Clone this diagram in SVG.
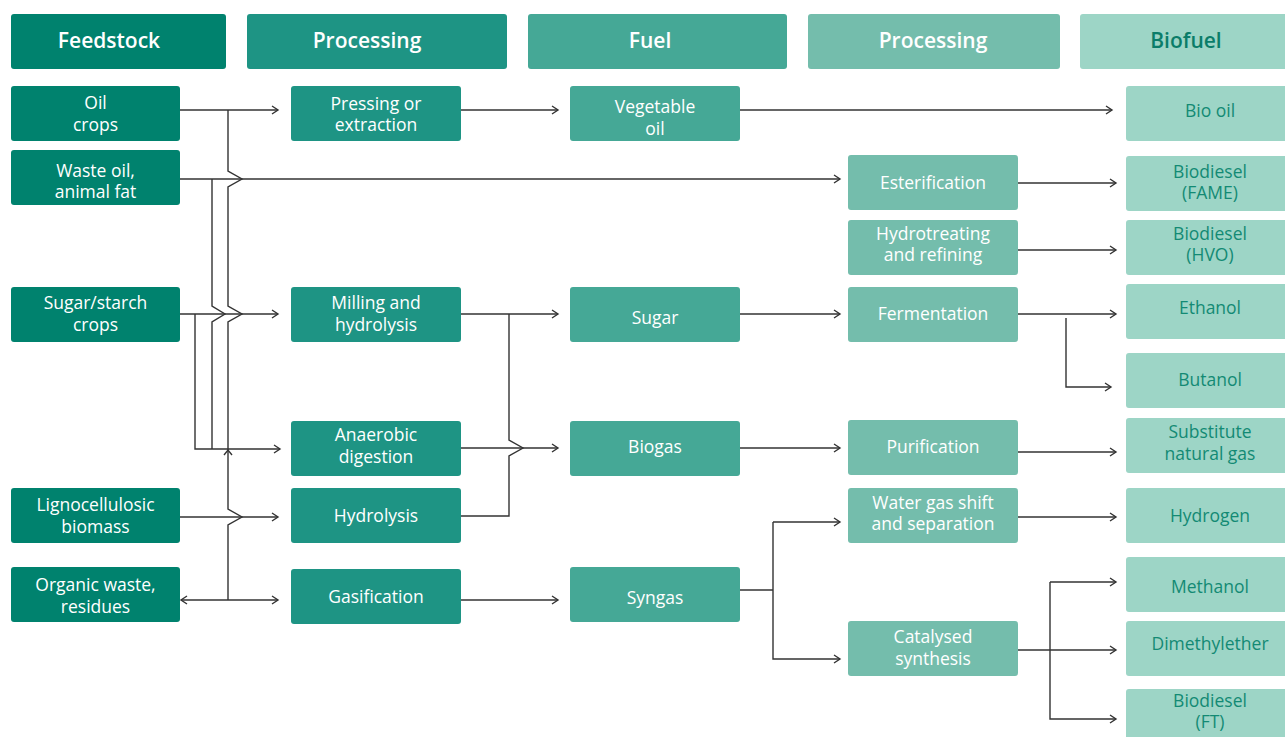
<svg xmlns="http://www.w3.org/2000/svg" width="1285" height="737" viewBox="0 0 1285 737">
<defs>
<style>
text{font-family:"Open Sans","Noto Sans","Liberation Sans",sans-serif;text-anchor:middle}
.h{font-size:21px;font-weight:600;fill:#fff}
.t{font-size:17.5px;fill:#fff}
.tb{font-size:17.5px;fill:#138a74}
.c1{fill:#00826e}.c2{fill:#1e9484}.c3{fill:#45a896}.c4{fill:#74bdac}.c5{fill:#9dd5c6}
.ln{fill:none;stroke:#333;stroke-width:1.4}
</style>
<marker id="a" markerWidth="10" markerHeight="10" refX="7" refY="5" orient="auto" markerUnits="userSpaceOnUse">
<path d="M1,1 L7,5 L1,9" fill="none" stroke="#333" stroke-width="1.4"/>
</marker>
</defs>
<rect width="1285" height="737" fill="#fff"/>

<g id="headers">
<g id="h-feedstock"><rect class="c1" x="11" y="14" width="215" height="55" rx="3"/><text class="h" x="109" y="48">Feedstock</text></g>
<g id="h-processing1"><rect class="c2" x="247" y="14" width="260" height="55" rx="3"/><text class="h" x="367" y="48">Processing</text></g>
<g id="h-fuel"><rect class="c3" x="528" y="14" width="259" height="55" rx="3"/><text class="h" x="650" y="48">Fuel</text></g>
<g id="h-processing2"><rect class="c4" x="808" y="14" width="252" height="55" rx="3"/><text class="h" x="933" y="48">Processing</text></g>
<g id="h-biofuel"><rect class="c5" x="1080" y="14" width="215" height="55" rx="3"/><text class="h" x="1186" y="48" style="fill:#0b7d69">Biofuel</text></g>
</g>

<g id="connectors">
<path class="ln" d="M180,110 H278" marker-end="url(#a)"/>
<path class="ln" d="M180,179 H840" marker-end="url(#a)"/>
<path class="ln" d="M180,314 H278" marker-end="url(#a)"/>
<path class="ln" d="M180,517 H278" marker-end="url(#a)"/>
<path class="ln" d="M228,600 H278" marker-end="url(#a)"/>
<path class="ln" d="M228,600 H181" marker-end="url(#a)"/>
<path class="ln" d="M195,314 V449 H280" marker-end="url(#a)"/>
<path class="ln" d="M212,179 V306 L225,314 L212,322 V449"/>
<path class="ln" d="M228,110 V171 L242,179 L228,187 V306 L242,314 L228,322 V509 L242,517 L228,525 V600"/>
<path class="ln" d="M224,455 L228,450 L232,455"/>
<path class="ln" d="M461,110 H558" marker-end="url(#a)"/>
<path class="ln" d="M461,314 H558" marker-end="url(#a)"/>
<path class="ln" d="M461,448 H558" marker-end="url(#a)"/>
<path class="ln" d="M461,600 H558" marker-end="url(#a)"/>
<path class="ln" d="M461,516 H509 V456 L523,448 L509,440 V314"/>
<path class="ln" d="M740,110 H1112" marker-end="url(#a)"/>
<path class="ln" d="M740,314 H840" marker-end="url(#a)"/>
<path class="ln" d="M740,448 H840" marker-end="url(#a)"/>
<path class="ln" d="M740,590 H773"/>
<path class="ln" d="M773,522 V659 H840" marker-end="url(#a)"/>
<path class="ln" d="M773,522 H840" marker-end="url(#a)"/>
<path class="ln" d="M1018,183 H1116" marker-end="url(#a)"/>
<path class="ln" d="M1018,250 H1116" marker-end="url(#a)"/>
<path class="ln" d="M1018,314 H1116" marker-end="url(#a)"/>
<path class="ln" d="M1066,318 V387 H1111" marker-end="url(#a)"/>
<path class="ln" d="M1018,452 H1116" marker-end="url(#a)"/>
<path class="ln" d="M1018,517 H1116" marker-end="url(#a)"/>
<path class="ln" d="M1018,650 H1116" marker-end="url(#a)"/>
<path class="ln" d="M1050,582 V719 H1116" marker-end="url(#a)"/>
<path class="ln" d="M1050,582 H1116" marker-end="url(#a)"/>
</g>

<g id="feedstock">
<g id="n-oil-crops"><rect class="c1" x="11" y="86" width="169" height="55" rx="3"/><text class="t" x="95.5" y="109">Oil</text><text class="t" x="95.5" y="131">crops</text></g>
<g id="n-waste-oil"><rect class="c1" x="11" y="150" width="169" height="55" rx="3"/><text class="t" x="95.5" y="177">Waste oil,</text><text class="t" x="95.5" y="198">animal fat</text></g>
<g id="n-sugar-crops"><rect class="c1" x="11" y="287" width="169" height="55" rx="3"/><text class="t" x="95.5" y="309">Sugar/starch</text><text class="t" x="95.5" y="331">crops</text></g>
<g id="n-ligno"><rect class="c1" x="11" y="488" width="169" height="55" rx="3"/><text class="t" x="95.5" y="511">Lignocellulosic</text><text class="t" x="95.5" y="533">biomass</text></g>
<g id="n-organic"><rect class="c1" x="11" y="567" width="169" height="55" rx="3"/><text class="t" x="95.5" y="591">Organic waste,</text><text class="t" x="95.5" y="613">residues</text></g>
</g>

<g id="processing1">
<g id="n-pressing"><rect class="c2" x="291" y="86" width="170" height="55" rx="3"/><text class="t" x="376" y="110">Pressing or</text><text class="t" x="376" y="131">extraction</text></g>
<g id="n-milling"><rect class="c2" x="291" y="287" width="170" height="55" rx="3"/><text class="t" x="376" y="309">Milling and</text><text class="t" x="376" y="331">hydrolysis</text></g>
<g id="n-anaerobic"><rect class="c2" x="291" y="421" width="170" height="55" rx="3"/><text class="t" x="376" y="441">Anaerobic</text><text class="t" x="376" y="463">digestion</text></g>
<g id="n-hydrolysis"><rect class="c2" x="291" y="488" width="170" height="55" rx="3"/><text class="t" x="376" y="522">Hydrolysis</text></g>
<g id="n-gasification"><rect class="c2" x="291" y="569" width="170" height="55" rx="3"/><text class="t" x="376" y="603">Gasification</text></g>
</g>

<g id="fuel">
<g id="n-vegoil"><rect class="c3" x="570" y="86" width="170" height="55" rx="3"/><text class="t" x="655" y="113">Vegetable</text><text class="t" x="655" y="135">oil</text></g>
<g id="n-sugar"><rect class="c3" x="570" y="287" width="170" height="55" rx="3"/><text class="t" x="655" y="324">Sugar</text></g>
<g id="n-biogas"><rect class="c3" x="570" y="421" width="170" height="55" rx="3"/><text class="t" x="655" y="453">Biogas</text></g>
<g id="n-syngas"><rect class="c3" x="570" y="567" width="170" height="55" rx="3"/><text class="t" x="655" y="604">Syngas</text></g>
</g>

<g id="processing2">
<g id="n-esterification"><rect class="c4" x="848" y="155" width="170" height="55" rx="3"/><text class="t" x="933" y="189">Esterification</text></g>
<g id="n-hydrotreating"><rect class="c4" x="848" y="220" width="170" height="55" rx="3"/><text class="t" x="933" y="240">Hydrotreating</text><text class="t" x="933" y="261">and refining</text></g>
<g id="n-fermentation"><rect class="c4" x="848" y="287" width="170" height="55" rx="3"/><text class="t" x="933" y="320">Fermentation</text></g>
<g id="n-purification"><rect class="c4" x="848" y="420" width="170" height="55" rx="3"/><text class="t" x="933" y="453">Purification</text></g>
<g id="n-watergas"><rect class="c4" x="848" y="488" width="170" height="55" rx="3"/><text class="t" x="933" y="509">Water gas shift</text><text class="t" x="933" y="530">and separation</text></g>
<g id="n-catalysed"><rect class="c4" x="848" y="621" width="170" height="55" rx="3"/><text class="t" x="933" y="643">Catalysed</text><text class="t" x="933" y="665">synthesis</text></g>
</g>

<g id="biofuel">
<g id="n-biooil"><rect class="c5" x="1126" y="86" width="170" height="55" rx="3"/><text class="tb" x="1210" y="117">Bio oil</text></g>
<g id="n-fame"><rect class="c5" x="1126" y="156" width="170" height="55" rx="3"/><text class="tb" x="1210" y="178">Biodiesel</text><text class="tb" x="1210" y="199">(FAME)</text></g>
<g id="n-hvo"><rect class="c5" x="1126" y="220" width="170" height="55" rx="3"/><text class="tb" x="1210" y="240">Biodiesel</text><text class="tb" x="1210" y="261">(HVO)</text></g>
<g id="n-ethanol"><rect class="c5" x="1126" y="284" width="170" height="55" rx="3"/><text class="tb" x="1210" y="314">Ethanol</text></g>
<g id="n-butanol"><rect class="c5" x="1126" y="353" width="170" height="55" rx="3"/><text class="tb" x="1210" y="386">Butanol</text></g>
<g id="n-sng"><rect class="c5" x="1126" y="418" width="170" height="55" rx="3"/><text class="tb" x="1210" y="438">Substitute</text><text class="tb" x="1210" y="460">natural gas</text></g>
<g id="n-hydrogen"><rect class="c5" x="1126" y="488" width="170" height="55" rx="3"/><text class="tb" x="1210" y="522">Hydrogen</text></g>
<g id="n-methanol"><rect class="c5" x="1126" y="557" width="170" height="55" rx="3"/><text class="tb" x="1210" y="593">Methanol</text></g>
<g id="n-dme"><rect class="c5" x="1126" y="621" width="170" height="55" rx="3"/><text class="tb" x="1210" y="650">Dimethylether</text></g>
<g id="n-ft"><rect class="c5" x="1126" y="689" width="170" height="60" rx="3"/><text class="tb" x="1210" y="707">Biodiesel</text><text class="tb" x="1210" y="728">(FT)</text></g>
</g>
</svg>
